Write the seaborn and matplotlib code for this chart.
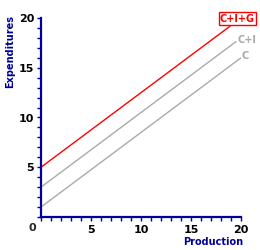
import matplotlib
matplotlib.use("Agg")
import matplotlib.pyplot as plt
import seaborn as sns
import pandas as pd

# data
series = ["C", "C+I", "C+I+G"]
x_start = [0, 0, 0]
x_end = [20, 19.5, 18.9]
intercepts = [1, 3, 5]
slope = 0.75
colors = {"C": "#aaaaaa", "C+I": "#aaaaaa", "C+I+G": "#ff0000"}
x_ticks = [5, 10, 15, 20]
y_ticks = [5, 10, 15, 20]

rows = []
for s, x0, x1, b in zip(series, x_start, x_end, intercepts):
    rows.append({"series": s, "x": x0, "y": b + slope * x0})
    rows.append({"series": s, "x": x1, "y": b + slope * x1})
df = pd.DataFrame(rows)

sns.set_style("white")
plt.rcParams['font.family'] = ['DejaVu Sans']

fig = plt.figure(figsize=(2.6, 2.5), dpi=100)
ax = fig.add_axes([41/260, 33/250, 200/260, 199/250])

sns.lineplot(data=df, x="x", y="y", hue="series", palette=colors,
             legend=False, ax=ax, linewidth=1.0)

navy = "#000099"
ax.set_xlim(0, 20)
ax.set_ylim(0, 20)
ax.set_xticks(x_ticks)
ax.set_yticks(y_ticks)
ax.set_xticks(range(0, 21), minor=True)
ax.set_yticks(range(0, 21), minor=True)
ax.set_xticklabels([str(v) for v in x_ticks], fontsize=8, fontweight="bold", color="black")
ax.set_yticklabels([str(v) for v in y_ticks], fontsize=8, fontweight="bold", color="black")
ax.tick_params(which="both", direction="out", length=3, width=1, color=navy,
               pad=2, bottom=True, left=True, top=False, right=False)
ax.tick_params(axis="x", pad=3)
for side in ["top", "right"]:
    ax.spines[side].set_visible(False)
for side in ["left", "bottom"]:
    ax.spines[side].set_color(navy)
    ax.spines[side].set_linewidth(1.6)
ax.set_xlabel("")
ax.set_ylabel("")

fig.text(32/260, 1 - 228/250, "0", fontsize=8, fontweight="bold",
         ha="center", va="center")
fig.text(10/260, 1 - 51/250, "Expenditures", fontsize=7, fontweight="bold",
         color=navy, rotation=90, ha="center", va="center")
fig.text(243/260, 1 - 242/250, "Production", fontsize=7, fontweight="bold",
         color=navy, ha="right", va="center")

# series labels
fig.text(237.5/260, 1 - 18.5/250, "C+I+G", fontsize=7, fontweight="bold",
         color="#ff0000", ha="center", va="center",
         bbox=dict(boxstyle="square,pad=0.15", fc="white", ec="#ff0000", lw=1))
fig.text(238/260, 1 - 40/250, "C+I", fontsize=7, fontweight="bold",
         color="#aaaaaa", ha="left", va="center")
fig.text(242/260, 1 - 56/250, "C", fontsize=7, fontweight="bold",
         color="#aaaaaa", ha="left", va="center")

fig.savefig("out.png", dpi=100)
